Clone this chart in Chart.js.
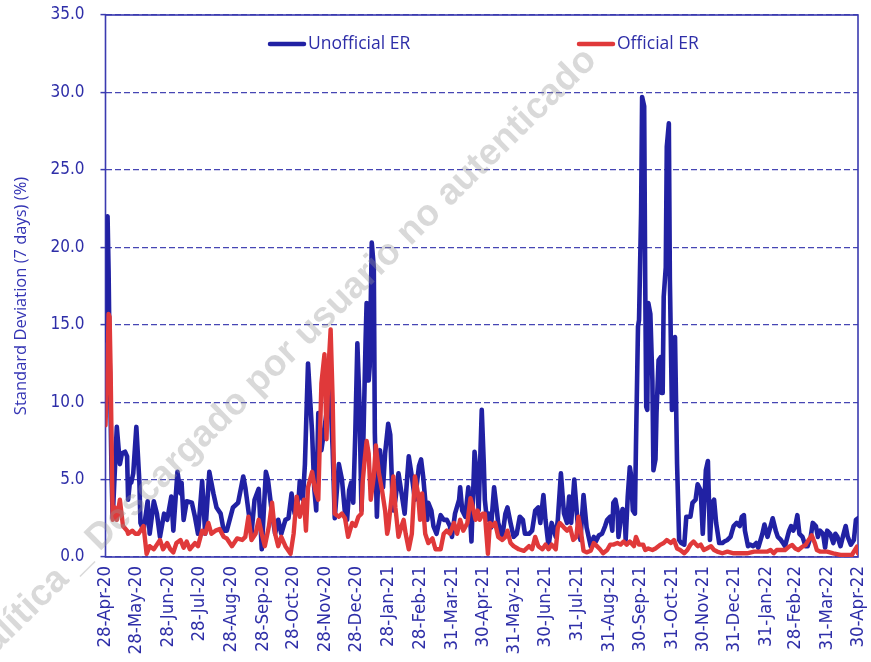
<!DOCTYPE html>
<html>
<head>
<meta charset="utf-8">
<script src="https://cdn.jsdelivr.net/npm/chart.js@4.4.1/dist/chart.umd.min.js"></script>
<style>
html,body{margin:0;padding:0;background:#ffffff;}
#wrap{width:871px;height:662px;position:relative;}
canvas{display:block;}
</style>
</head>
<body>
<div id="wrap"><canvas id="c" width="871" height="662"></canvas></div>
<script>
// ---- DATA (x = days since 28-Apr-20) ----
const tickDays = [0,30,61,91,122,153,183,214,244,275,306,337,367,398,428,459,490,520,551,581,612,643,671,702,732];
const tickLabels = ["28-Apr-20","28-May-20","28-Jun-20","28-Jul-20","28-Aug-20","28-Sep-20","28-Oct-20","28-Nov-20","28-Dec-20","28-Jan-21","28-Feb-21","31-Mar-21","30-Apr-21","31-May-21","30-Jun-21","31-Jul-21","31-Aug-21","30-Sep-21","31-Oct-21","30-Nov-21","31-Dec-21","31-Jan-22","28-Feb-22","31-Mar-22","30-Apr-22"];
const yTicks = [0,5,10,15,20,25,30,35];

const unofficialDays = [0,1,2,3,4,5,6,7,11,14,16,19,21,22,24,25,27,30,33,34,37,41,43,47,50,53,57,60,64,66,70,73,74,76,79,84,87,90,94,97,101,105,108,112,115,118,124,129,134,136,139,142,145,149,152,156,158,162,165,168,171,175,178,181,184,188,189,192,194,197,201,203,205,207,210,215,218,221,223,227,230,233,235,237,239,241,243,245,247,249,251,253,254,256,257,259,261,262,264,266,267,269,270,272,275,277,279,280,282,285,288,291,293,295,298,301,305,307,309,311,313,314,317,319,322,326,329,332,335,337,340,344,345,347,350,353,356,359,361,363,366,368,369,371,373,375,378,381,382,386,389,391,394,397,400,403,406,408,412,415,418,421,423,426,428,431,434,438,440,443,446,449,451,453,456,459,462,465,468,472,475,477,480,483,486,488,491,493,494,496,498,499,502,503,505,506,508,510,511,513,515,516,518,519,521,522,524,525,526,527,528,530,532,533,535,536,538,540,541,542,543,545,546,548,549,551,553,554,556,558,560,563,565,569,571,574,576,579,581,584,586,588,590,592,594,597,600,602,605,608,611,614,617,619,621,622,625,627,630,633,635,639,641,644,647,649,652,654,657,659,661,665,667,669,671,673,675,678,681,683,686,688,691,693,695,698,700,702,705,708,710,712,715,718,720,722,725,728,730,732];
const unofficialValues = [14,21,22,18.5,13,9,5,2.5,8.4,6.0,6.7,6.8,6.5,3.7,5.0,4.8,5.4,8.4,4.8,2.2,1.7,3.6,1.5,3.6,2.8,1.3,2.8,2.4,3.9,1.7,5.5,4.1,4.8,2.4,3.6,3.5,2.6,1.5,4.9,1.5,5.5,4.1,3.2,2.8,1.7,1.7,3.2,3.5,5.2,4.5,3.0,1.5,3.7,4.4,0.5,5.5,5.0,2.8,1.5,2.4,1.5,2.4,2.5,4.1,2.8,3.9,4.9,3.7,6.0,12.5,8.0,4.5,3.0,9.3,6.9,9.3,11.6,6.9,2.5,6.0,5.0,2.8,2.4,4.3,4.8,3.5,8.0,13.8,10.0,3.0,8.0,14.0,16.4,11.4,12.3,20.3,18.7,8.0,2.6,6.5,6.9,5.2,4.5,6.7,8.6,7.9,4.1,3.0,3.7,5.4,4.1,2.8,4.7,6.5,5.2,3.7,5.9,6.3,5.2,3.7,2.4,3.5,3.0,2.0,1.5,2.7,2.4,2.4,2.0,1.3,2.8,3.7,4.5,3.0,2.6,4.5,1.0,6.8,5.4,3.0,9.5,6.0,3.7,2.4,2.8,1.9,4.5,2.8,2.2,1.3,2.8,3.2,2.2,1.3,1.5,2.6,2.4,1.5,1.5,1.7,3.0,3.2,2.2,4.0,2.4,0.7,2.2,1.3,2.4,5.4,2.8,2.2,3.9,2.2,5.0,2.4,1.1,4.0,1.9,0.7,1.3,1.0,1.4,1.5,2.0,2.4,2.6,1.7,3.5,3.7,3.0,1.3,2.8,3.1,2.8,1.1,3.9,5.8,5.4,3.0,2.8,7.1,14.9,15.3,22.2,29.7,29.1,17.9,9.7,9.5,16.4,15.7,11.4,5.6,6.3,9.3,12.7,12.9,10.6,10.6,16.8,18.7,26.5,28.0,17.9,9.5,13.6,14.2,6.0,1.1,0.9,0.8,2.6,2.6,3.5,3.7,4.7,4.3,1.5,5.6,6.2,1.1,3.5,3.7,2.2,0.9,0.9,1.0,1.1,1.3,2.0,2.2,2.0,2.6,2.7,1.7,0.7,0.8,0.7,0.9,0.6,1.5,2.1,1.3,2.0,2.5,1.7,1.3,1.1,0.9,0.7,1.7,2.0,1.7,2.0,2.7,1.5,1.3,0.7,0.7,1.3,2.2,2.0,1.3,1.7,1.5,0.6,1.7,1.5,0.9,1.5,1.3,0.7,1.5,2.0,1.3,0.8,1.1,2.4,2.5];

const officialDays = [0,2,3,4,5,6,7,9,11,14,17,21,22,26,29,32,37,40,43,47,50,53,56,60,63,66,69,73,76,79,82,87,90,94,97,100,103,107,111,115,118,123,128,133,136,139,142,146,149,152,155,159,162,165,168,171,175,180,183,186,189,193,195,197,201,204,207,210,213,215,217,219,221,223,227,230,233,236,240,243,246,249,250,252,254,256,258,261,263,266,269,272,274,275,278,280,282,285,288,290,292,295,298,301,304,306,308,311,314,318,321,326,329,332,335,339,342,345,348,352,355,357,360,362,364,367,369,372,374,377,379,382,386,389,391,394,397,402,407,412,415,418,421,425,428,431,434,438,440,442,446,449,452,455,458,460,462,465,468,472,475,478,481,484,488,491,494,498,501,504,507,510,514,516,519,523,525,528,532,535,540,543,546,550,553,556,559,563,566,569,572,576,579,582,585,589,592,595,600,605,611,618,624,631,637,644,647,650,653,657,661,665,668,671,674,678,681,683,686,687,690,692,695,702,708,715,721,726,729,731,732];
const officialValues = [8.5,12.5,15.7,15.5,12,7,2.4,3.2,2.4,3.7,2.0,1.7,1.5,1.7,1.5,1.5,2.0,0.2,0.7,0.5,0.8,1.1,0.5,0.9,0.5,0.3,0.9,1.1,0.6,1.0,0.5,0.9,0.7,1.7,1.5,2.2,1.5,1.7,1.8,1.3,1.2,0.7,1.2,1.1,1.3,2.6,1.1,1.5,2.4,1.5,0.7,2.0,3.5,1.5,0.7,1.3,0.7,0.2,1.5,3.9,2.6,3.7,1.7,4.5,5.5,4.3,3.7,11.2,13.1,7.6,12.3,14.7,10.1,2.8,2.6,2.8,2.5,1.3,2.2,2.0,2.6,2.8,4.7,6.2,7.5,6.7,3.7,5.2,7.2,5.4,4.3,3.0,1.5,1.8,3.7,5.2,3.2,1.3,2.0,2.4,1.5,0.5,1.5,5.2,4.1,2.4,4.1,1.5,0.9,1.2,0.5,0.5,1.5,1.7,1.5,2.2,1.5,2.4,1.7,2.2,3.8,3.3,2.4,3.0,2.4,2.8,2.8,0.2,2.2,2.0,2.2,1.3,1.1,1.3,1.7,0.9,0.7,0.5,0.4,0.7,0.5,1.3,0.7,0.5,0.8,0.5,0.8,0.5,1.9,2.2,1.9,1.7,1.9,1.1,1.3,2.6,1.9,0.4,0.3,0.4,0.9,0.7,0.5,0.24,0.45,0.8,0.8,0.9,0.8,1.0,0.8,1.0,0.7,1.3,0.8,0.8,0.45,0.55,0.45,0.55,0.8,0.9,1.1,0.9,1.1,0.55,0.45,0.24,0.45,0.8,1.0,0.7,0.8,0.45,0.55,0.7,0.45,0.35,0.24,0.35,0.24,0.24,0.24,0.35,0.35,0.35,0.45,0.24,0.45,0.45,0.45,0.67,0.77,0.55,0.45,0.67,0.77,1.0,1.3,1.4,0.9,0.45,0.35,0.35,0.24,0.13,0.13,0.13,0.45,0.67,0.24];

const seriesNames = ["Unofficial ER", "Official ER"];
const yTitle = "Standard Deviation (7 days) (%)";
const watermark = "Analítica _ Descargado por usuario no autenticado";

// ---- STYLE ----
const BLUE = "#2121A3";
const RED = "#E0393A";
const AXIS = "#3A3AB0";
const TEXT = "#2E2EA8";
const tickFont = "'DejaVu Sans Condensed','Open Sans',sans-serif";
const textFont = "'Open Sans',sans-serif";

function toPoints(days, vals){ return days.map((d,i)=>({x:d, y:vals[i]})); }

const boxPlugin = {
  id: 'box',
  beforeDatasetsDraw(chart){
    const {ctx, chartArea:a} = chart;
    ctx.save();
    ctx.strokeStyle = AXIS;
    ctx.lineWidth = 1.6;
    ctx.setLineDash([]);
    ctx.strokeRect(a.left, a.top, a.right - a.left, a.bottom - a.top);
    ctx.restore();
  }
};

const decorPlugin = {
  id: 'decor',
  afterDraw(chart){
    const ctx = chart.ctx;
    // y axis title
    ctx.save();
    ctx.translate(21, 296);
    ctx.rotate(-Math.PI/2);
    ctx.font = "16.5px " + textFont;
    ctx.fillStyle = "#3434B4";
    ctx.textAlign = "center";
    ctx.textBaseline = "middle";
    ctx.fillText(yTitle, 0, 0);
    ctx.restore();
    // legend
    const items = [{x:268}, {x:577}];
    chart.data.datasets.forEach((ds, i) => {
      const it = items[i];
      ctx.save();
      ctx.strokeStyle = ds.borderColor;
      ctx.lineWidth = 4.5;
      ctx.lineCap = "round";
      ctx.beginPath();
      ctx.moveTo(it.x + 2, 44);
      ctx.lineTo(it.x + 36, 44);
      ctx.stroke();
      ctx.font = "17.5px " + textFont;
      ctx.fillStyle = TEXT;
      ctx.textAlign = "left";
      ctx.textBaseline = "middle";
      ctx.fillText(ds.label, it.x + 40, 44);
      ctx.restore();
    });
    // watermark
    ctx.save();
    ctx.translate(598, 62);
    ctx.rotate(-44.5 * Math.PI / 180);
    ctx.font = "bold 37px 'Liberation Sans', Arial, sans-serif";
    ctx.fillStyle = "rgba(150,150,150,0.36)";
    ctx.textAlign = "right";
    ctx.textBaseline = "alphabetic";
    ctx.fillText(watermark, 0, 0);
    ctx.restore();
  }
};

new Chart(document.getElementById('c'), {
  type: 'line',
  data: {
    datasets: [
      { label: seriesNames[0], data: toPoints(unofficialDays, unofficialValues), borderColor: BLUE, backgroundColor: BLUE,
        borderWidth: 4.6, pointRadius: 0, tension: 0, borderJoinStyle: 'round', borderCapStyle: 'round', order: 1 },
      { label: seriesNames[1], data: toPoints(officialDays, officialValues), borderColor: RED, backgroundColor: RED,
        borderWidth: 4.4, pointRadius: 0, tension: 0, borderJoinStyle: 'round', borderCapStyle: 'round', order: 0 }
    ]
  },
  options: {
    responsive: false,
    animation: false,
    devicePixelRatio: 1,
    layout: { padding: { top: 15, right: 13, left: 0, bottom: 0 } },
    plugins: { legend: { display: false }, tooltip: { enabled: false } },
    scales: {
      x: {
        type: 'linear', min: 0, max: 732,
        afterBuildTicks(scale){ scale.ticks = tickDays.map(v => ({ value: v })); },
        afterFit(scale){ scale.height = 105; scale.paddingLeft = 0; scale.paddingRight = 0; scale.paddingTop = 0; scale.paddingBottom = 0; },
        grid: { display: false, drawTicks: false },
        border: { display: false },
        ticks: {
          autoSkip: false, minRotation: 90, maxRotation: 90, padding: 9,
          color: TEXT, font: { family: tickFont, size: 18.5 },
          callback(v){ const i = tickDays.indexOf(v); return i >= 0 ? tickLabels[i] : ''; }
        }
      },
      y: {
        min: 0, max: 35,
        afterBuildTicks(scale){ scale.ticks = yTicks.map(v => ({ value: v })); },
        afterFit(scale){ scale.width = 105.5; scale.paddingTop = 0; scale.paddingBottom = 0; scale.paddingLeft = 0; scale.paddingRight = 0; },
        grid: { color: "#4646B4", lineWidth: 1.2, drawTicks: true, tickLength: 5, tickColor: AXIS, tickWidth: 1.5, tickBorderDash: [], borderDash: [6,3] },
        border: { display: false, dash: [6,3] },
        ticks: {
          padding: 16, color: TEXT, font: { family: tickFont, size: 17 },
          callback(v){ return Number(v).toFixed(1); }
        }
      }
    }
  },
  plugins: [boxPlugin, decorPlugin]
});
</script>
</body>
</html>
